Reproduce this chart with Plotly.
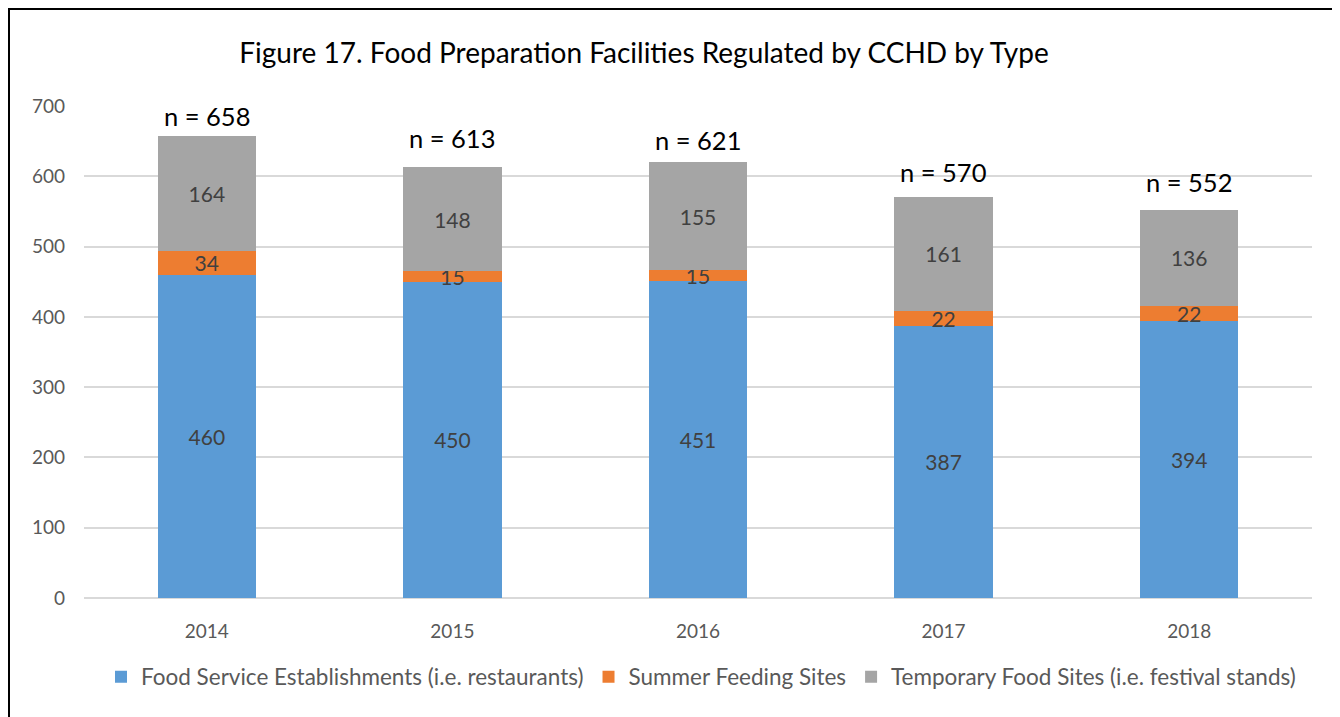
import plotly.graph_objects as go

years = ["2014", "2015", "2016", "2017", "2018"]
food_service = [460, 450, 451, 387, 394]
summer_feeding = [34, 15, 15, 22, 22]
temporary = [164, 148, 155, 161, 136]
totals = [658, 613, 621, 570, 552]
n_label_offset = [28, 41, 30, 36, 40]

series_names = [
    "Food Service Establishments (i.e. restaurants)",
    "Summer Feeding Sites",
    "Temporary Food Sites (i.e. festival stands)",
]
colors = ["#5B9BD5", "#ED7D31", "#A5A5A5"]

FONT = "Lato"

fig = go.Figure()
for name, vals, col in zip(series_names, [food_service, summer_feeding, temporary], colors):
    fig.add_trace(go.Bar(
        x=years, y=vals, name=name,
        marker=dict(color=col, line=dict(width=0)),
        text=[str(v) for v in vals],
        textposition="inside",
        insidetextanchor="middle",
        textangle=0,
        constraintext="none",
        textfont=dict(family=FONT, size=21, color="#404040"),
        cliponaxis=False,
    ))

# category axis: annotation x given as category index
for i, (tot, off) in enumerate(zip(totals, n_label_offset)):
    fig.add_annotation(
        x=i, y=tot + off, text=f"n = {tot}", showarrow=False,
        font=dict(family=FONT, size=25.5, color="#000000"),
        xanchor="center", yanchor="middle",
    )

# page body has an 8px margin; positions below are in figure pixels
W, H = 1332, 709
ml, mr, mt, mb = 76, 28, 98, 119
pw = W - ml - mr
ph = H - mt - mb

fig.add_shape(
    type="rect", xref="paper", yref="paper",
    x0=(0.5 - ml) / pw, x1=(W + 20 - ml) / pw,
    y0=-(mb + 20) / ph, y1=(H - mb - 0.5) / ph,
    line=dict(color="#000000", width=3), fillcolor="rgba(0,0,0,0)",
    layer="above",
)

fig.update_layout(
    width=W, height=H,
    margin=dict(l=ml, r=mr, t=mt, b=mb, autoexpand=False),
    barmode="stack",
    bargap=0.6,
    plot_bgcolor="white",
    paper_bgcolor="white",
    uniformtext=dict(minsize=21, mode="show"),
    title=dict(
        text="Figure 17. Food Preparation Facilities Regulated by CCHD by Type",
        x=636 / W, xanchor="center", y=1 - 45 / H, yanchor="middle",
        font=dict(family=FONT, size=28, color="#000000"),
    ),
    font=dict(family=FONT, color="#595959"),
    legend=dict(
        orientation="h", x=(693 - ml) / pw, xanchor="center",
        y=(H - mb - 669) / ph, yanchor="middle",
        font=dict(family=FONT, size=22.5, color="#595959"),
        traceorder="normal", itemwidth=30,
    ),
    xaxis=dict(
        type="category", range=[-0.5, len(years) - 0.5],
        showgrid=False, showline=False, ticks="",
        tickfont=dict(family=FONT, size=19, color="#595959"),
        ticklabelstandoff=20,
    ),
    yaxis=dict(
        range=[0, 700], tickvals=[0, 100, 200, 300, 400, 500, 600, 700],
        showgrid=True, gridcolor="#D9D9D9", gridwidth=1.5,
        zeroline=True, zerolinecolor="#D9D9D9", zerolinewidth=1.5,
        showline=False, ticks="",
        tickfont=dict(family=FONT, size=19, color="#595959"),
        ticklabelstandoff=18,
    ),
)

fig.write_html("out.html")
